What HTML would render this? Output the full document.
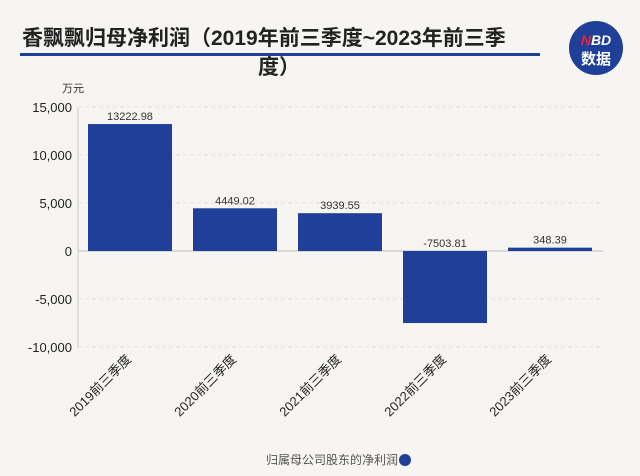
<!DOCTYPE html>
<html><head><meta charset="utf-8">
<style>
body{margin:0;background:#f7f5f1;font-family:"Liberation Sans","Noto Sans CJK SC",sans-serif;}
#wrap{position:relative;width:640px;height:476px;overflow:hidden;background:#f7f5f1;}
</style></head>
<body>
<div id="wrap">
<svg id="chart" width="640" height="476" xmlns="http://www.w3.org/2000/svg">
  <text x="22" y="45" font-size="21" font-weight="bold" fill="#222" font-family="Liberation Sans, Noto Sans CJK SC, sans-serif">香飘飘归母净利润（2019年前三季度~2023年前三季</text>
  <rect x="20" y="53" width="520" height="3" fill="#1f3f98"/>
  <text x="258" y="74" font-size="21" font-weight="bold" fill="#222" font-family="Liberation Sans, Noto Sans CJK SC, sans-serif">度）</text>
  <g>
    <circle cx="596" cy="48" r="27" fill="#1f3f98"/>
    <text x="596" y="45" text-anchor="middle" font-size="14" font-weight="bold" fill="#fff" font-style="italic"><tspan fill="#e23">N</tspan>BD</text>
    <text x="596" y="64" text-anchor="middle" font-size="15" font-weight="bold" fill="#fff">数据</text>
  </g>
  <text x="62" y="92" font-size="11" fill="#333">万元</text>
  <g id="yaxis"></g>
  <g id="bars"></g>
  <g id="xlabels"></g>
  <text x="398" y="464" text-anchor="end" font-size="12" fill="#555">归属母公司股东的净利润</text>
  <circle cx="405" cy="460" r="6" fill="#1f3f98"/>
</svg>
</div>
<script>
const categories=["2019前三季度","2020前三季度","2021前三季度","2022前三季度","2023前三季度"];
const values=[13222.98,4449.02,3939.55,-7503.81,348.39];
const valueLabels=["13222.98","4449.02","3939.55","-7503.81","348.39"];
const yTicks=[15000,10000,5000,0,-5000,-10000];
const yTickLabels=["15,000","10,000","5,000","0","-5,000","-10,000"];
const NS="http://www.w3.org/2000/svg";
const x0=78,x1=603,yZero=251,pxPer=144/15000;
const bandW=(x1-x0)/categories.length;
function y(v){return yZero-v*pxPer;}
function bx(i){return x0+i*bandW;}
function mk(tag,attrs,parent){const e=document.createElementNS(NS,tag);for(const k in attrs)e.setAttribute(k,attrs[k]);parent.appendChild(e);return e;}
const ya=document.getElementById('yaxis');
const axis=mk('line',{x1:x0,x2:x0,y1:y(yTicks[0]),y2:y(yTicks[yTicks.length-1]),stroke:'#ccc'},ya);


yTicks.forEach((t,i)=>{
  const g=mk('line',{x1:x0,x2:x1,y1:y(t),y2:y(t),stroke:t===0?'#bbb':'#ddd','stroke-dasharray':t===0?'':'4,3'},ya);
  
  
  const l=mk('text',{x:x0-6,y:y(t)+5,'text-anchor':'end','font-size':13,fill:'#222'},ya);
  l.textContent=yTickLabels[i];
  
  
});
const bg=document.getElementById('bars'),xl=document.getElementById('xlabels');
categories.forEach((c,i)=>{
  const v=values[i],left=bx(i)+10,w=bandW-21;
  const top=Math.min(y(v),yZero),h=Math.abs(y(v)-yZero);
  const r=mk('rect',{x:left,y:top,width:w,height:Math.max(h,1),fill:'#1f3f98'},bg);
  
  
  const vl=mk('text',{x:left+w/2,y:(v>=0?y(v):yZero)-4,'text-anchor':'middle','font-size':11,fill:'#333'},bg);
  vl.textContent=valueLabels[i];
  
  
  const cx=left+w/2+2,cy=360;
  const xt=mk('text',{x:cx,y:cy,'text-anchor':'end','font-size':13,fill:'#222',transform:`rotate(-45 ${cx} ${cy})`},xl);
  xt.textContent=c;
  
  
});
</script>
</body></html>
